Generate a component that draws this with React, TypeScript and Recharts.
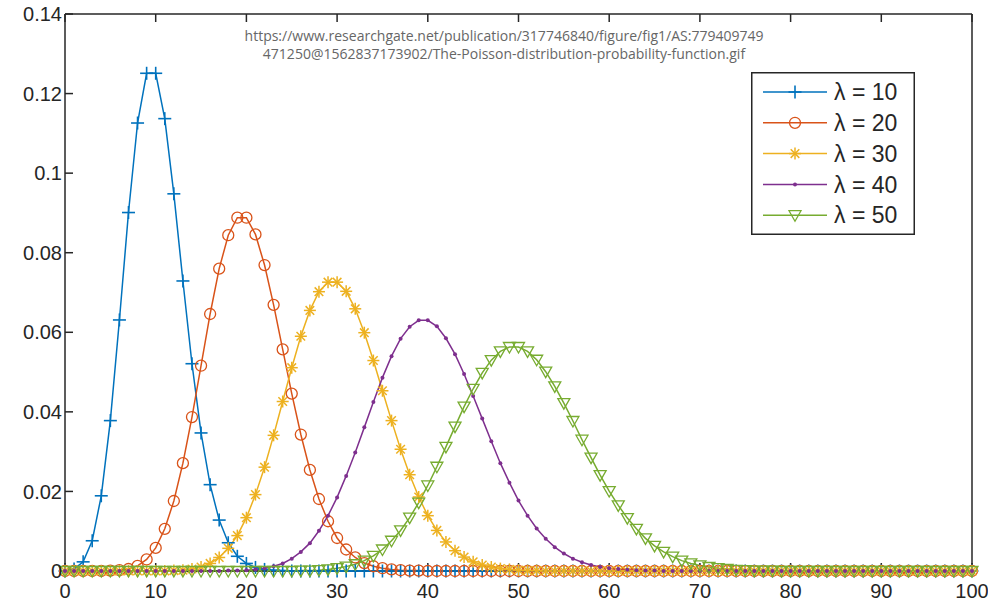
import { LineChart, Line, XAxis, YAxis } from "recharts";

// k = 0..100 (categories)
const kValues: number[] = Array.from({ length: 101 }, (_, i) => i);
const xTicks = [0, 10, 20, 30, 40, 50, 60, 70, 80, 90, 100];
const yTicks = [0, 0.02, 0.04, 0.06, 0.08, 0.1, 0.12, 0.14];

// values, one row per 10 points
const lambda10 = [
  0, 0.0005, 0.0023, 0.0076, 0.0189, 0.0378, 0.0631, 0.0901, 0.1126, 0.1251,
  0.1251, 0.1137, 0.0948, 0.0729, 0.0521, 0.0347, 0.0217, 0.0128, 0.0071, 0.0037,
  0.0019, 0.0009, 0.0004, 0.0002, 0.0001, 0, 0, 0, 0, 0,
  0, 0, 0, 0, 0, 0, 0, 0, 0, 0,
  0, 0, 0, 0, 0, 0, 0, 0, 0, 0,
  0, 0, 0, 0, 0, 0, 0, 0, 0, 0,
  0, 0, 0, 0, 0, 0, 0, 0, 0, 0,
  0, 0, 0, 0, 0, 0, 0, 0, 0, 0,
  0, 0, 0, 0, 0, 0, 0, 0, 0, 0,
  0, 0, 0, 0, 0, 0, 0, 0, 0, 0,
  0,
];
const lambda20 = [
  0, 0, 0, 0, 0, 0.0001, 0.0002, 0.0005, 0.0013, 0.0029,
  0.0058, 0.0106, 0.0176, 0.0271, 0.0387, 0.0516, 0.0646, 0.076, 0.0844, 0.0888,
  0.0888, 0.0846, 0.0769, 0.0669, 0.0557, 0.0446, 0.0343, 0.0254, 0.0181, 0.0125,
  0.0083, 0.0054, 0.0034, 0.002, 0.0012, 0.0007, 0.0004, 0.0002, 0.0001, 0.0001,
  0, 0, 0, 0, 0, 0, 0, 0, 0, 0,
  0, 0, 0, 0, 0, 0, 0, 0, 0, 0,
  0, 0, 0, 0, 0, 0, 0, 0, 0, 0,
  0, 0, 0, 0, 0, 0, 0, 0, 0, 0,
  0, 0, 0, 0, 0, 0, 0, 0, 0, 0,
  0, 0, 0, 0, 0, 0, 0, 0, 0, 0,
  0,
];
const lambda30 = [
  0, 0, 0, 0, 0, 0, 0, 0, 0, 0,
  0, 0, 0.0001, 0.0002, 0.0005, 0.001, 0.0019, 0.0034, 0.0057, 0.0089,
  0.0134, 0.0192, 0.0261, 0.0341, 0.0426, 0.0511, 0.059, 0.0655, 0.0702, 0.0726,
  0.0726, 0.0703, 0.0659, 0.0599, 0.0529, 0.0453, 0.0378, 0.0306, 0.0242, 0.0186,
  0.0139, 0.0102, 0.0073, 0.0051, 0.0035, 0.0023, 0.0015, 0.001, 0.0006, 0.0004,
  0.0002, 0.0001, 0.0001, 0, 0, 0, 0, 0, 0, 0,
  0, 0, 0, 0, 0, 0, 0, 0, 0, 0,
  0, 0, 0, 0, 0, 0, 0, 0, 0, 0,
  0, 0, 0, 0, 0, 0, 0, 0, 0, 0,
  0, 0, 0, 0, 0, 0, 0, 0, 0, 0,
  0,
];
const lambda40 = [
  0, 0, 0, 0, 0, 0, 0, 0, 0, 0,
  0, 0, 0, 0, 0, 0, 0, 0, 0.0001, 0.0001,
  0.0002, 0.0004, 0.0007, 0.0012, 0.0019, 0.0031, 0.0048, 0.007, 0.0101, 0.0139,
  0.0185, 0.0239, 0.0298, 0.0361, 0.0425, 0.0486, 0.054, 0.0584, 0.0614, 0.063,
  0.063, 0.0615, 0.0585, 0.0545, 0.0495, 0.044, 0.0383, 0.0326, 0.0271, 0.0222,
  0.0177, 0.0139, 0.0107, 0.0081, 0.006, 0.0044, 0.0031, 0.0022, 0.0015, 0.001,
  0.0007, 0.0005, 0.0003, 0.0002, 0.0001, 0.0001, 0, 0, 0, 0,
  0, 0, 0, 0, 0, 0, 0, 0, 0, 0,
  0, 0, 0, 0, 0, 0, 0, 0, 0, 0,
  0, 0, 0, 0, 0, 0, 0, 0, 0, 0,
  0,
];
const lambda50 = [
  0, 0, 0, 0, 0, 0, 0, 0, 0, 0,
  0, 0, 0, 0, 0, 0, 0, 0, 0, 0,
  0, 0, 0, 0, 0, 0, 0.0001, 0.0001, 0.0002, 0.0004,
  0.0007, 0.0011, 0.0017, 0.0026, 0.0038, 0.0054, 0.0076, 0.0102, 0.0134, 0.0172,
  0.0215, 0.0262, 0.0312, 0.0363, 0.0413, 0.0458, 0.0498, 0.053, 0.0552, 0.0563,
  0.0563, 0.0552, 0.0531, 0.0501, 0.0464, 0.0422, 0.0377, 0.033, 0.0285, 0.0241,
  0.0201, 0.0165, 0.0133, 0.0106, 0.0082, 0.0063, 0.0048, 0.0036, 0.0026, 0.0019,
  0.0014, 0.001, 0.0007, 0.0005, 0.0003, 0.0002, 0.0001, 0.0001, 0.0001, 0,
  0, 0, 0, 0, 0, 0, 0, 0, 0, 0,
  0, 0, 0, 0, 0, 0, 0, 0, 0, 0,
  0,
];

const data = kValues.map((k, i) => ({
  k,
  l10: lambda10[i],
  l20: lambda20[i],
  l30: lambda30[i],
  l40: lambda40[i],
  l50: lambda50[i],
}));

type Shape = "plus" | "circle" | "star" | "dot" | "tri";

interface Serie {
  key: string;
  label: string;
  color: string;
  shape: Shape;
}

const series: Serie[] = [
  { key: "l10", label: "λ = 10", color: "#0072BD", shape: "plus" },
  { key: "l20", label: "λ = 20", color: "#D95319", shape: "circle" },
  { key: "l30", label: "λ = 30", color: "#EDB120", shape: "star" },
  { key: "l40", label: "λ = 40", color: "#7E2F8E", shape: "dot" },
  { key: "l50", label: "λ = 50", color: "#77AC30", shape: "tri" },
];

const AXIS = "#262626";
const FONT = "'Liberation Sans', Arial, sans-serif";

function Marker({ shape, color, cx, cy }: { shape: Shape; color: string; cx: number; cy: number }) {
  switch (shape) {
    case "plus":
      return (
        <g stroke={color} strokeWidth={1.6}>
          <line x1={cx - 6.5} y1={cy} x2={cx + 6.5} y2={cy} />
          <line x1={cx} y1={cy - 6.5} x2={cx} y2={cy + 6.5} />
        </g>
      );
    case "circle":
      return <circle cx={cx} cy={cy} r={5.5} fill="none" stroke={color} strokeWidth={1.3} />;
    case "star":
      return (
        <g stroke={color} strokeWidth={1.5}>
          <line x1={cx - 6} y1={cy} x2={cx + 6} y2={cy} />
          <line x1={cx} y1={cy - 6} x2={cx} y2={cy + 6} />
          <line x1={cx - 4.3} y1={cy - 4.3} x2={cx + 4.3} y2={cy + 4.3} />
          <line x1={cx - 4.3} y1={cy + 4.3} x2={cx + 4.3} y2={cy - 4.3} />
        </g>
      );
    case "dot":
      return <circle cx={cx} cy={cy} r={2} fill={color} stroke="none" />;
    case "tri":
      return (
        <polygon
          points={`${cx - 6},${cy - 4.5} ${cx + 6},${cy - 4.5} ${cx},${cy + 6}`}
          fill="none"
          stroke={color}
          strokeWidth={1.3}
        />
      );
  }
  return null;
}

const makeDot = (s: Serie) => (props: any) => {
  const { cx, cy, index } = props;
  if (cx == null || cy == null) return <g key={`${s.key}-${index}`} />;
  return (
    <g key={`${s.key}-${index}`}>
      <Marker shape={s.shape} color={s.color} cx={cx} cy={cy} />
    </g>
  );
};

const fmtY = (v: number) => (v === 0 ? "0" : String(+v.toFixed(2)));

function LegendBox() {
  return (
    <svg width={164} height={163} style={{ display: "block" }}>
      <rect x={0.75} y={0.75} width={162.5} height={161.5} fill="#fff" stroke={AXIS} strokeWidth={1.5} />
      {series.map((s, i) => {
        const y = 20 + i * 30.8;
        return (
          <g key={s.key}>
            <line x1={12} y1={y} x2={76} y2={y} stroke={s.color} strokeWidth={1.5} />
            <Marker shape={s.shape} color={s.color} cx={44} cy={y} />
            <text x={83} y={y} dy="0.36em" fontSize={23} fill={AXIS} fontFamily={FONT}>
              {s.label}
            </text>
          </g>
        );
      })}
    </svg>
  );
}

export default function App() {
  return (
    <div style={{ position: "absolute", left: 0, top: 0, width: 988, height: 604, background: "#fff" }}>
      <LineChart width={988} height={604} data={data} margin={{ top: 13, right: 15, bottom: 0, left: 15 }}>
        <XAxis
          dataKey="k"
          type="number"
          domain={[0, 100]}
          ticks={xTicks}
          height={33}
          stroke={AXIS}
          strokeWidth={1.5}
          tickSize={-8}
          tickMargin={21}
          tick={{ fill: AXIS, fontSize: 20, fontFamily: FONT }}
          interval={0}
        />
        <XAxis
          xAxisId="top"
          orientation="top"
          dataKey="k"
          type="number"
          domain={[0, 100]}
          ticks={xTicks}
          height={1}
          stroke={AXIS}
          strokeWidth={1.5}
          tickSize={-8}
          tick={() => <g />}
          interval={0}
        />
        <YAxis
          type="number"
          domain={[0, 0.14]}
          ticks={yTicks}
          width={50}
          stroke={AXIS}
          strokeWidth={1.5}
          tickSize={-8}
          tickMargin={11}
          tickFormatter={fmtY}
          tick={{ fill: AXIS, fontSize: 20, fontFamily: FONT }}
          interval={0}
        />
        <YAxis
          yAxisId="right"
          orientation="right"
          type="number"
          domain={[0, 0.14]}
          ticks={yTicks}
          width={1}
          stroke={AXIS}
          strokeWidth={1.5}
          tickSize={-8}
          tick={() => <g />}
          interval={0}
        />
        {series.map((s) => (
          <Line
            key={s.key}
            type="linear"
            dataKey={s.key}
            stroke={s.color}
            strokeWidth={1.5}
            dot={makeDot(s)}
            activeDot={false}
            isAnimationActive={false}
          />
        ))}
      </LineChart>
      <div
        style={{
          position: "absolute",
          left: 0,
          top: 27,
          width: 1008,
          textAlign: "center",
          fontFamily: "'Open Sans', sans-serif",
          fontSize: 14,
          lineHeight: "18px",
          color: "#666",
          pointerEvents: "none",
        }}
      >
        https://www.researchgate.net/publication/317746840/figure/fig1/AS:779409749
        <br />
        471250@1562837173902/The-Poisson-distribution-probability-function.gif
      </div>
      <div style={{ position: "absolute", left: 751, top: 72 }}>
        <LegendBox />
      </div>
    </div>
  );
}
